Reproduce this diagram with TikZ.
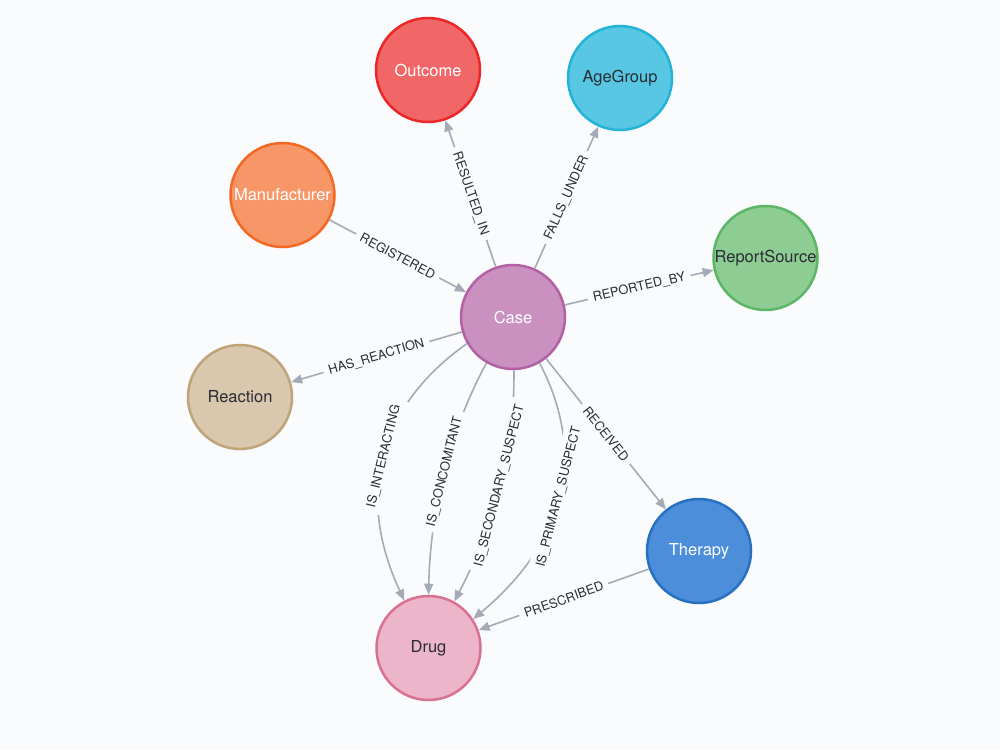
\documentclass[tikz,border=0pt]{standalone}
\usepackage{fontspec}
\setmainfont{TeX Gyre Heros}
\usetikzlibrary{arrows.meta}
\definecolor{bg}{HTML}{F9FBFD}
\definecolor{relc}{HTML}{A5ABB6}
\definecolor{lblc}{HTML}{2A2C34}
\definecolor{darktxt}{HTML}{2A2C34}
\definecolor{redF}{HTML}{F16667}\definecolor{redB}{HTML}{EB2728}
\definecolor{cyanF}{HTML}{57C7E3}\definecolor{cyanB}{HTML}{23B3D7}
\definecolor{orgF}{HTML}{F79767}\definecolor{orgB}{HTML}{F36924}
\definecolor{grnF}{HTML}{8DCC93}\definecolor{grnB}{HTML}{5DB665}
\definecolor{purF}{HTML}{C990C0}\definecolor{purB}{HTML}{B261A5}
\definecolor{tanF}{HTML}{D9C8AE}\definecolor{tanB}{HTML}{C0A378}
\definecolor{bluF}{HTML}{4C8EDA}\definecolor{bluB}{HTML}{2870C2}
\definecolor{pnkF}{HTML}{ECB5C9}\definecolor{pnkB}{HTML}{DA7194}
\begin{document}
\begin{tikzpicture}[x=1pt,y=-1pt,
  gnode/.style={circle, minimum size=104pt, inner sep=0pt, line width=2.5pt, font=\fontsize{16.5}{18}\selectfont},
  rel/.style={draw=relc, line width=1.6pt, -{Triangle[length=11pt,width=9pt]}},
  lbl/.style={sloped, fill=bg, text=lblc, font=\fontsize{12.8}{14}\selectfont, inner xsep=5.5pt, inner ysep=2pt, pos=0.5},
  clbl/.style={lbl, inner ysep=6pt}]
\fill[bg] (0,0) rectangle (1000,750);
\useasboundingbox (0,0) rectangle (1000,750);

\node[gnode, fill=redF, draw=redB, text=white] (outcome) at (428,70) {Outcome};
\node[gnode, fill=cyanF, draw=cyanB, text=darktxt] (agegroup) at (620,78) {AgeGroup};
\node[gnode, fill=orgF, draw=orgB, text=white] (manufacturer) at (282.5,195) {Manufacturer};
\node[gnode, fill=grnF, draw=grnB, text=darktxt] (reportsource) at (765.5,258) {ReportSource};
\node[gnode, fill=purF, draw=purB, text=white] (case) at (513,317) {Case};
\node[gnode, fill=tanF, draw=tanB, text=darktxt] (reaction) at (240,397) {Reaction};
\node[gnode, fill=bluF, draw=bluB, text=white] (therapy) at (699,551) {Therapy};
\node[gnode, fill=pnkF, draw=pnkB, text=darktxt] (drug) at (428.5,648) {Drug};

\draw[rel] (case) -- node[lbl]{RESULTED\_IN} (outcome);
\draw[rel] (case) -- node[lbl]{FALLS\_UNDER} (agegroup);
\draw[rel] (manufacturer) -- node[lbl]{REGISTERED} (case);
\draw[rel] (case) -- node[lbl]{REPORTED\_BY} (reportsource);
\draw[rel] (case) -- node[lbl]{HAS\_REACTION} (reaction);
\draw[rel] (case) -- node[lbl]{RECEIVED} (therapy);
\draw[rel] (therapy) -- node[lbl]{PRESCRIBED} (drug);

\draw[rel] (case.210) .. controls +(-89,63) and +(-49,-105) .. node[clbl]{IS\_INTERACTING} (drug.117);
\draw[rel] (case.240) .. controls +(-36,66) and +(2,-86) .. node[clbl]{IS\_CONCOMITANT} (drug.90);
\draw[rel] (case.271) .. controls +(1,76) and +(40,-77) .. node[clbl]{IS\_SECONDARY\_SUSPECT} (drug.61);
\draw[rel] (case.300) .. controls +(48,92) and +(92,-77) .. node[clbl]{IS\_PRIMARY\_SUSPECT} (drug.33);
\end{tikzpicture}
\end{document}
